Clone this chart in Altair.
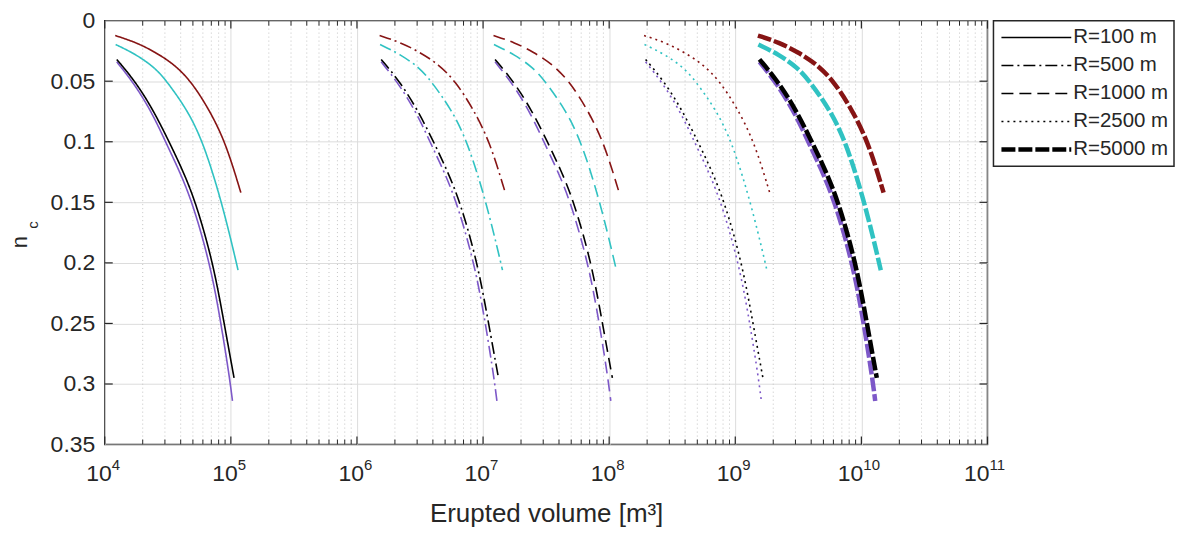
import altair as alt
import pandas as pd

# ---------------- data ----------------
R_LABELS = ["R=100 m", "R=500 m", "R=1000 m", "R=2500 m", "R=5000 m"]
# horizontal shift (volume multiplier) of each R-family relative to R=100 m
VOLUME_FACTOR = [1, 125, 1000, 15625, 125000]

COLOUR_NAMES = ["darkred", "cyan", "purple", "black"]
COLOUR_HEX = ["#861414", "#30c2c2", "#7d58c8", "#000000"]

# base curves (R = 100 m family): erupted volume [m3] and n_c
V_DARKRED = [1.21e4, 1.78e4, 2.51e4, 3.55e4, 4.82e4, 6.61e4, 9.06e4, 1.20e5]
N_DARKRED = [0.0123, 0.018, 0.026, 0.036, 0.050, 0.072, 0.100, 0.142]

V_CYAN = [1.22e4, 1.78e4, 2.51e4, 3.10e4, 4.47e4, 6.03e4, 8.49e4, 1.107e5, 1.14e5]
N_CYAN = [0.0197, 0.028, 0.039, 0.050, 0.073, 0.100, 0.150, 0.200, 0.206]

V_BLACK = [1.245e4, 1.74e4, 2.40e4, 3.24e4, 4.17e4, 5.27e4, 7.24e4, 8.85e4, 1.06e5]
N_BLACK = [0.032, 0.050, 0.073, 0.100, 0.124, 0.150, 0.200, 0.250, 0.295]

V_PURPLE = [1.245e4, 1.74e4, 2.40e4, 3.16e4, 4.07e4, 5.13e4, 7.00e4, 8.51e4, 9.77e4, 1.03e5]
N_PURPLE = [0.034, 0.053, 0.077, 0.104, 0.128, 0.155, 0.205, 0.255, 0.295, 0.314]

DASHES = [[1, 0], [12, 4, 2, 4], [12, 6], [2, 4], [14, 3]]
WIDTHS = [1.6, 1.6, 1.6, 1.6, 4.5]

DECADES = [1e4, 1e5, 1e6, 1e7, 1e8, 1e9, 1e10, 1e11]
EXPONENTS = ["4", "5", "6", "7", "8", "9", "10", "11"]
MINOR_MULT = [2, 3, 4, 5, 6, 7, 8, 9]
Y_TICKS = [0, 0.05, 0.1, 0.15, 0.2, 0.25, 0.3, 0.35]

W, H = 885, 425
TXT = "#262626"
FONT = "Liberation Sans"

# ---------------- tables ----------------
curves = [("darkred", V_DARKRED, N_DARKRED), ("cyan", V_CYAN, N_CYAN),
          ("purple", V_PURPLE, N_PURPLE), ("black", V_BLACK, N_BLACK)]
rows = []
for lab, f in zip(R_LABELS, VOLUME_FACTOR):
    for cname, vs, ns in curves:
        for k, (v, n) in enumerate(zip(vs, ns)):
            rows.append({"R": lab, "colour": cname, "series": lab + "|" + cname,
                         "V": v * f, "n": n, "k": k})
df = pd.DataFrame(rows)

minor = pd.DataFrame({"V": [m * d for d in DECADES[:-1] for m in MINOR_MULT]})
major = pd.DataFrame({"V": DECADES})
yt = pd.DataFrame({"n": Y_TICKS[1:-1]})
dec_df = pd.DataFrame({"V": DECADES, "base": ["10"] * len(DECADES), "e": EXPONENTS})
dec_1 = dec_df[dec_df["e"].str.len() == 1]
dec_2 = dec_df[dec_df["e"].str.len() == 2]

xs = alt.Scale(type="log", domain=[1e4, 1e11], nice=False)
ys = alt.Scale(domain=[0, 0.35], reverse=True, nice=False, zero=False)

x_axis = alt.Axis(values=DECADES, labels=False, ticks=False,
                  domain=False, grid=True, gridColor="#dcdcdc", gridWidth=1,
                  title="Erupted volume [m³]", titleFontSize=26, titleFontWeight="normal",
                  titleColor=TXT, titlePadding=56)
y_axis = alt.Axis(values=Y_TICKS, format="~g", labelFontSize=23, labelColor=TXT,
                  labelPadding=10, ticks=False, domain=False, grid=True,
                  gridColor="#dcdcdc", gridWidth=1, title=None)

minor_grid = alt.Chart(minor).mark_rule(color="#c4c4c4", strokeDash=[1, 3], strokeWidth=1).encode(
    x=alt.X("V:Q", scale=xs), y=alt.value(0), y2=alt.value(H))

lines = alt.Chart(df).mark_line(strokeCap="butt", interpolate="basis").encode(
    x=alt.X("V:Q", scale=xs, axis=x_axis),
    y=alt.Y("n:Q", scale=ys, axis=y_axis),
    color=alt.Color("colour:N", scale=alt.Scale(domain=COLOUR_NAMES, range=COLOUR_HEX), legend=None),
    strokeDash=alt.StrokeDash("R:N", scale=alt.Scale(domain=R_LABELS, range=DASHES), legend=None),
    strokeWidth=alt.StrokeWidth("R:N", scale=alt.Scale(type="ordinal", domain=R_LABELS, range=WIDTHS), legend=None),
    detail="series:N",
    order="k:Q",
)

tick_b_major = alt.Chart(major).mark_rule(color=TXT, strokeWidth=1.2).encode(
    x=alt.X("V:Q", scale=xs), y=alt.value(H), y2=alt.value(H - 8))
tick_t_major = alt.Chart(major).mark_rule(color=TXT, strokeWidth=1.2).encode(
    x=alt.X("V:Q", scale=xs), y=alt.value(0), y2=alt.value(8))
tick_b_minor = alt.Chart(minor).mark_rule(color=TXT, strokeWidth=1).encode(
    x=alt.X("V:Q", scale=xs), y=alt.value(H), y2=alt.value(H - 5))
tick_t_minor = alt.Chart(minor).mark_rule(color=TXT, strokeWidth=1).encode(
    x=alt.X("V:Q", scale=xs), y=alt.value(0), y2=alt.value(5))
tick_l = alt.Chart(yt).mark_rule(color=TXT, strokeWidth=1.2).encode(
    y=alt.Y("n:Q", scale=ys), x=alt.value(0), x2=alt.value(8))
tick_r = alt.Chart(yt).mark_rule(color=TXT, strokeWidth=1.2).encode(
    y=alt.Y("n:Q", scale=ys), x=alt.value(W - 8), x2=alt.value(W))

# x tick labels: "10" with a raised exponent
def dec_labels(d, dx):
    base = alt.Chart(d).mark_text(fontSize=23, color=TXT, align="right", baseline="alphabetic",
                                  dx=dx).encode(x=alt.X("V:Q", scale=xs), y=alt.value(H + 37), text="base:N")
    sup = alt.Chart(d).mark_text(fontSize=15, color=TXT, align="left", baseline="alphabetic",
                                 dx=dx).encode(x=alt.X("V:Q", scale=xs), y=alt.value(H + 26), text="e:N")
    return [base, sup]

xl = dec_labels(dec_1, 7) + dec_labels(dec_2, 2)

ytitle_n = alt.Chart(pd.DataFrame({"t": ["n"]})).mark_text(
    angle=270, fontSize=22, color=TXT, align="center", baseline="middle").encode(
    x=alt.value(-85), y=alt.value(222), text="t:N")
ytitle_c = alt.Chart(pd.DataFrame({"t": ["c"]})).mark_text(
    angle=270, fontSize=15, color=TXT, align="center", baseline="middle").encode(
    x=alt.value(-72), y=alt.value(205), text="t:N")

main = alt.layer(minor_grid, lines, tick_b_major, tick_t_major, tick_b_minor, tick_t_minor,
                 tick_l, tick_r, *xl, ytitle_n, ytitle_c).properties(width=W, height=H)

# ---------------- legend panel ----------------
leg_df = pd.DataFrame({"R": R_LABELS})
leg_y = alt.Y("R:N", scale=alt.Scale(domain=R_LABELS, type="point", padding=0.6), axis=None)
leg_lines = alt.Chart(leg_df).mark_rule(strokeCap="butt", color="black").encode(
    x=alt.value(8), x2=alt.value(78), y=leg_y,
    strokeDash=alt.StrokeDash("R:N", scale=alt.Scale(domain=R_LABELS, range=DASHES), legend=None),
    strokeWidth=alt.StrokeWidth("R:N", scale=alt.Scale(type="ordinal", domain=R_LABELS, range=WIDTHS), legend=None),
)
leg_text = alt.Chart(leg_df).mark_text(align="left", baseline="middle", fontSize=20.5, color=TXT).encode(
    x=alt.value(80), y=leg_y, text="R:N")
legend = alt.layer(leg_lines, leg_text).properties(width=181, height=146)

chart = alt.hconcat(main, legend, spacing=6, bounds="flush").properties(
    padding={"left": 0, "top": 0, "right": 0, "bottom": 5}
).configure_view(stroke=TXT, strokeWidth=1.5).configure_axis(
    labelFont=FONT, titleFont=FONT).configure_text(font=FONT)

chart.save("out.html", embed_options={"renderer": "svg", "actions": False})
